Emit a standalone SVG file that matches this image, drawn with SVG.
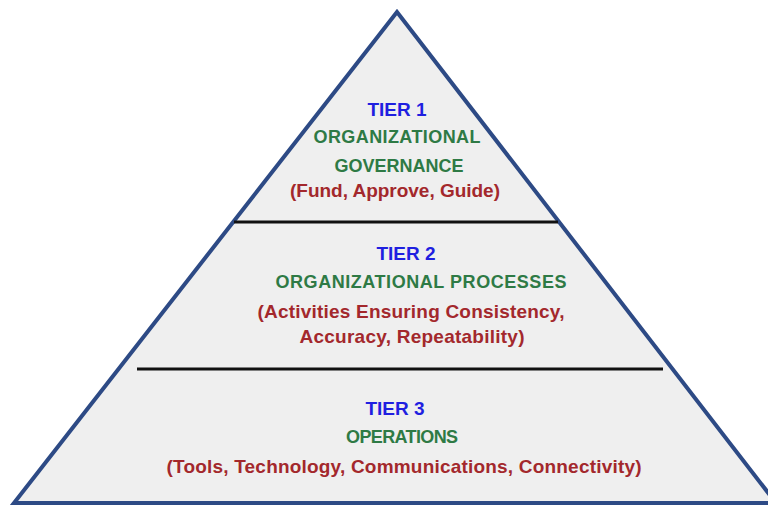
<svg xmlns="http://www.w3.org/2000/svg" width="768" height="506" viewBox="0 0 768 506">
<style>
text{font-family:"Liberation Sans",Arial,sans-serif;font-weight:bold;text-anchor:middle;font-size:18px}
.t{fill:#1f1fe0;font-size:19px}
.g{fill:#2e7a45}
.r{fill:#a3282c;font-size:19px}
.sep{stroke:#111;stroke-width:3}
</style>
<rect width="768" height="506" fill="#ffffff"/>
<g id="pyramid">
<polygon points="397,12 14,503 776,503" fill="#efefef" stroke="#2d4a85" stroke-width="4" stroke-linejoin="miter"/>
</g>
<g id="connectors">
<line class="sep" x1="234" y1="222" x2="558" y2="222"/>
<line class="sep" x1="137" y1="369" x2="663" y2="369"/>
</g>
<g id="tier1">
<text class="t" x="397" y="116">TIER 1</text>
<text class="g" x="397" y="143" textLength="167" lengthAdjust="spacing">ORGANIZATIONAL</text>
<text class="g" x="399" y="172">GOVERNANCE</text>
<text class="r" x="395" y="197" textLength="210" lengthAdjust="spacing">(Fund, Approve, Guide)</text>
</g>
<g id="tier2">
<text class="t" x="406" y="260">TIER 2</text>
<text class="g" x="421" y="288" textLength="291" lengthAdjust="spacing">ORGANIZATIONAL PROCESSES</text>
<text class="r" x="411" y="318" textLength="307" lengthAdjust="spacing">(Activities Ensuring Consistency,</text>
<text class="r" x="412" y="343" textLength="225" lengthAdjust="spacing">Accuracy, Repeatability)</text>
</g>
<g id="tier3">
<text class="t" x="395" y="415">TIER 3</text>
<text class="g" x="402" y="443" textLength="112" lengthAdjust="spacing">OPERATIONS</text>
<text class="r" x="404" y="473" textLength="475" lengthAdjust="spacing">(Tools, Technology, Communications, Connectivity)</text>
</g>
</svg>
